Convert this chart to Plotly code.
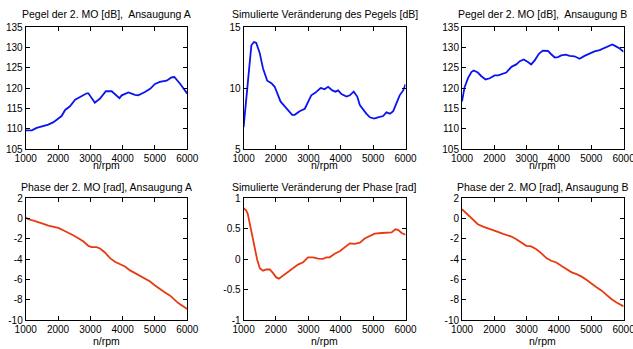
import plotly.graph_objects as go

W, H = 633, 349

# ---------------- data ----------------
rpm_a_pegel = [1000, 1190, 1340, 1550, 1700, 1860, 2010, 2110, 2220, 2370, 2530, 2730, 2890, 2940,
               3040, 3140, 3300, 3480, 3660, 3810, 3900, 3970, 4180, 4380, 4480, 4690, 4850,
               5000, 5150, 5360, 5510, 5600, 5770, 6000]
pegel_a = [109.6, 109.6, 110.2, 110.7, 111.0, 111.6, 112.4, 113.1, 114.6, 115.5, 117.1, 118.0, 118.7,
           118.7, 117.4, 116.4, 117.4, 119.2, 119.2, 118.0, 117.5, 118.2, 118.9, 118.3, 118.2,
           119.0, 119.8, 121.0, 121.5, 121.8, 122.6, 122.7, 121.1, 118.6]

rpm_sim_pegel = [1000, 1050, 1110, 1165, 1240, 1320, 1390, 1495, 1600, 1730, 1860, 1960, 2060, 2140,
                 2270, 2370, 2500, 2580, 2730, 2890, 2990, 3090, 3210, 3380, 3500, 3610, 3740,
                 3840, 3920, 4020, 4180, 4280, 4400, 4510, 4590, 4690, 4790, 4900, 5030, 5150,
                 5310, 5410, 5520, 5620, 5720, 5820, 5930, 6000]
sim_pegel = [6.8, 8.3, 9.9, 11.7, 13.5, 13.77, 13.7, 12.9, 11.6, 10.6, 10.4, 10.1, 9.5, 8.9,
             8.5, 8.2, 7.8, 7.8, 8.1, 8.3, 8.9, 9.4, 9.6, 10.0, 9.9, 10.1, 9.8,
             9.7, 9.8, 9.5, 9.3, 9.4, 9.7, 9.3, 8.6, 8.2, 7.9, 7.6, 7.5, 7.6,
             7.7, 8.0, 7.9, 8.1, 8.8, 9.4, 9.8, 10.3]

rpm_b_pegel = [1000, 1080, 1190, 1290, 1360, 1490, 1600, 1730, 1860, 2010, 2120, 2270, 2370, 2530,
               2680, 2790, 2910, 3040, 3140, 3250, 3380, 3500, 3660, 3760, 3870, 3970, 4070,
               4210, 4330, 4480, 4640, 4790, 4950, 5100, 5260, 5410, 5540, 5650, 5750, 5880, 6000]
pegel_b = [116.7, 120.2, 122.5, 123.9, 124.3, 123.8, 122.9, 122.1, 122.4, 123.1, 123.1, 123.5, 123.8,
           125.2, 125.8, 126.6, 127.0, 126.4, 125.8, 126.8, 128.4, 129.2, 129.1, 128.3, 127.5,
           127.6, 128.0, 128.2, 127.9, 127.8, 127.2, 127.9, 128.4, 129.0, 129.3, 129.8, 130.3,
           130.7, 130.3, 129.7, 128.9]

rpm_a_phase = [1000, 1080, 1240, 1400, 1550, 1700, 1860, 2010, 2160, 2320, 2470, 2630, 2790, 2940,
               3040, 3190, 3300, 3450, 3610, 3760, 3920, 4070, 4230, 4380, 4540, 4690, 4850,
               5000, 5150, 5310, 5460, 5590, 5720, 5880, 6000]
phase_a = [0.1, -0.07, -0.2, -0.33, -0.52, -0.69, -0.82, -0.92, -1.15, -1.38, -1.64, -1.93, -2.26,
           -2.69, -2.82, -2.82, -2.95, -3.34, -3.9, -4.26, -4.46, -4.72, -5.11, -5.38, -5.64,
           -5.87, -6.2, -6.59, -6.95, -7.28, -7.57, -7.93, -8.33, -8.66, -8.92]

rpm_sim_phase = [1000, 1080, 1130, 1190, 1260, 1340, 1420, 1500, 1600, 1700, 1810, 1910, 2010, 2090,
                 2220, 2370, 2530, 2680, 2840, 2990, 3140, 3300, 3450, 3560, 3660, 3810, 3970,
                 4120, 4280, 4430, 4590, 4740, 4900, 5050, 5260, 5460, 5570, 5690, 5770, 5880, 6000]
sim_phase = [0.84, 0.80, 0.74, 0.59, 0.37, 0.18, -0.01, -0.15, -0.19, -0.17, -0.17, -0.23, -0.30,
             -0.32, -0.27, -0.22, -0.15, -0.09, -0.05, 0.03, 0.03, 0.01, 0.005, 0.03, 0.03, 0.09,
             0.13, 0.20, 0.26, 0.25, 0.27, 0.34, 0.38, 0.42, 0.43, 0.43, 0.44, 0.49, 0.48, 0.43, 0.40]

rpm_b_phase = [1000, 1130, 1290, 1390, 1490, 1650, 1810, 1960, 2110, 2270, 2420, 2530, 2680, 2840,
               2990, 3140, 3300, 3450, 3610, 3760, 3920, 4070, 4230, 4380, 4540, 4690, 4850,
               5000, 5150, 5310, 5460, 5620, 5770, 5930, 6000]
phase_b = [0.92, 0.52, 0.03, -0.3, -0.56, -0.79, -0.95, -1.11, -1.31, -1.51, -1.64, -1.77, -2.03,
           -2.36, -2.69, -2.75, -3.02, -3.41, -3.9, -4.16, -4.33, -4.66, -4.98, -5.28, -5.48,
           -5.7, -6.03, -6.43, -6.75, -7.08, -7.51, -7.93, -8.26, -8.56, -8.66]

x_ticks = [1000, 2000, 3000, 4000, 5000, 6000]
x_ticktext = ["1000", "2000", "3000", "4000", "5000", "6000"]
pegel_ticks = [105, 110, 115, 120, 125, 130, 135]
pegel_ticktext = ["105", "110", "115", "120", "125", "130", "135"]
simpegel_ticks = [5, 10, 15]
simpegel_ticktext = ["5", "10", "15"]
phase_ticks = [-10, -8, -6, -4, -2, 0, 2]
phase_ticktext = ["-10", "-8", "-6", "-4", "-2", "0", "2"]
simphase_ticks = [-1, -0.5, 0, 0.5, 1]
simphase_ticktext = ["-1", "-0.5", "0", "0.5", "1"]

titles = ["Pegel der 2. MO [dB],  Ansaugung A",
          "Simulierte Veränderung des Pegels [dB]",
          "Pegel der 2. MO [dB],  Ansaugung B",
          "Phase der 2. MO [rad], Ansaugung A",
          "Simulierte Veränderung der Phase [rad]",
          "Phase der 2. MO [rad], Ansaugung B"]
xlabel = "n/rpm"

BLUE = "#0a14f0"
RED = "#e83a10"

# ---------------- layout geometry (pixels) ----------------
cols_px = [(25.7, 187.3), (243.6, 405.5), (462.0, 623.6)]
rows_px = [(27.0, 149.0), (198.3, 320.0)]

series = [
    (rpm_a_pegel, pegel_a, BLUE, (105, 135), pegel_ticks, pegel_ticktext),
    (rpm_sim_pegel, sim_pegel, BLUE, (5, 15), simpegel_ticks, simpegel_ticktext),
    (rpm_b_pegel, pegel_b, BLUE, (105, 135), pegel_ticks, pegel_ticktext),
    (rpm_a_phase, phase_a, RED, (-10, 2), phase_ticks, phase_ticktext),
    (rpm_sim_phase, sim_phase, RED, (-1, 1), simphase_ticks, simphase_ticktext),
    (rpm_b_phase, phase_b, RED, (-10, 2), phase_ticks, phase_ticktext),
]

FONT = "Liberation Sans, Arial, sans-serif"
fig = go.Figure()
layout = dict(template="none", width=W, height=H, margin=dict(l=0, r=0, t=0, b=0, pad=0),
              paper_bgcolor="white", plot_bgcolor="white", showlegend=False,
              font=dict(family=FONT, size=10, color="black"))
annotations = []
xlab_y = [165.0, 341.0]
title_y = [14.0, 187.3]

for i, (xs, ys, col, yr, yt, ytt) in enumerate(series):
    r, c = divmod(i, 3)
    n = i + 1
    xa = "x" if n == 1 else f"x{n}"
    ya = "y" if n == 1 else f"y{n}"
    fig.add_trace(go.Scatter(x=xs, y=ys, mode="lines", xaxis=xa, yaxis=ya,
                             line=dict(color=col, width=1.8), hoverinfo="skip"))
    x0, x1 = cols_px[c]
    y0, y1 = rows_px[r]
    axcommon = dict(showgrid=False, zeroline=False, showline=True, linecolor="black",
                    linewidth=1, mirror="ticks", ticks="inside", ticklen=4,
                    tickcolor="black", automargin=False, ticklabeloverflow="allow",
                    tickfont=dict(family=FONT, size=10, color="black"))
    layout["xaxis" if n == 1 else f"xaxis{n}"] = dict(
        domain=[x0 / W, x1 / W], range=[1000, 6000], tickvals=x_ticks, ticktext=x_ticktext,
        anchor=ya, **axcommon)
    layout["yaxis" if n == 1 else f"yaxis{n}"] = dict(
        domain=[1 - y1 / H, 1 - y0 / H], range=list(yr), tickvals=yt, ticktext=ytt,
        anchor=xa, **axcommon)
    cx = (x0 + x1) / 2 / W
    annotations.append(dict(text=titles[i], x=cx, y=1 - title_y[r] / H, xref="paper", yref="paper",
                            xanchor="center", yanchor="middle", showarrow=False,
                            font=dict(family=FONT, size=10.5, color="black")))
    annotations.append(dict(text=xlabel, x=cx, y=1 - xlab_y[r] / H, xref="paper", yref="paper",
                            xanchor="center", yanchor="middle", showarrow=False,
                            font=dict(family=FONT, size=10.5, color="black")))

layout["annotations"] = annotations
fig.update_layout(**layout)
fig.write_html("out.html", config={"displayModeBar": False},
               post_script="document.body.style.margin='0';document.body.style.overflow='hidden';")
